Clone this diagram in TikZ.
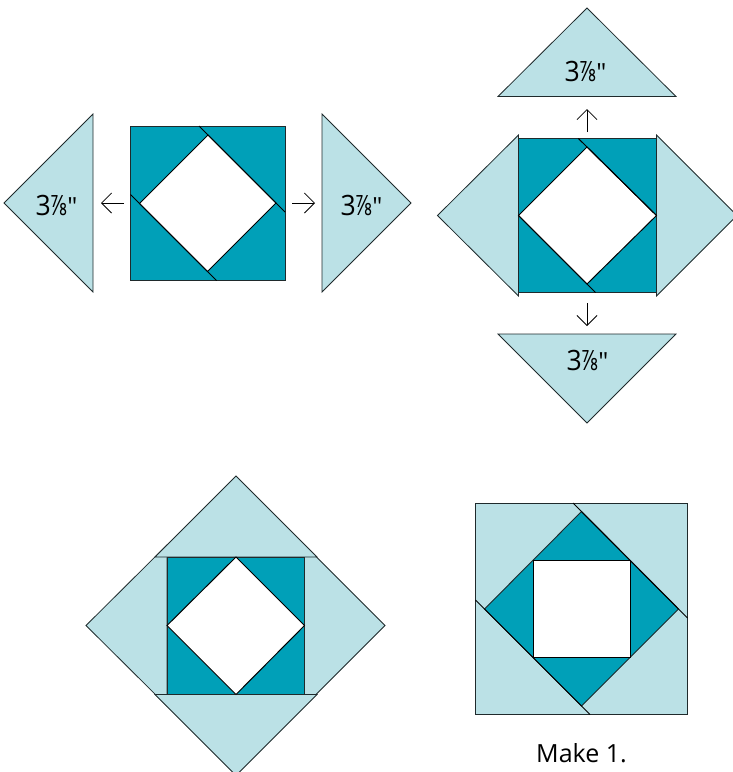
\documentclass[tikz,border=0pt]{standalone}
\usepackage{fontspec}
\newfontfamily\labfont{Open Sans}
\usetikzlibrary{arrows.meta}
\definecolor{teal1}{HTML}{00A0B8}
\definecolor{pale1}{HTML}{BBE1E6}
\definecolor{edge1}{HTML}{1F2A2C}
\tikzset{
  pale/.style={fill=pale1,draw=edge1,line width=0.8pt,line join=miter},
  darkp/.style={fill=teal1,draw=edge1,line width=0.9pt},
  hole/.style={fill=white,draw=black,line width=1pt},
  seam/.style={draw=black,line width=1pt},
  arr/.style={draw=black,line width=0.8pt,-{Straight Barb[length=10pt,width=20pt,line width=0.8pt]}},
  lab/.style={inner sep=0pt,text=black},
  mk/.style={font=\labfont\fontsize{25}{28}\selectfont,inner sep=0pt,text=black}
}
\newcommand{\threeeighths}{\labfont\fontsize{28}{29}\selectfont \scalebox{0.95}[1]{3}\kern-0.02em\scalebox{0.76}[1]{⅞}\kern0.01em{\fontsize{25}{25}\selectfont "}}
\begin{document}
\begin{tikzpicture}[x=1pt,y=-1pt]
\useasboundingbox (0,0) rectangle (733,772);
% block 1
\path[pale] (93,114) -- (93,292) -- (4,203) -- cycle;
\path[pale] (322,114) -- (322,292) -- (411,203) -- cycle;
\path[darkp] (130.5,126) rectangle (285,280.5);
\path[hole] (208,135) -- (276,203) -- (207.5,271.5) -- (139.5,203.5) -- cycle;
\draw[seam] (199,126) -- (285,212);
\draw[seam] (130.5,194.5) -- (216.5,280.5);
\node[lab] (a1) at (56.5,205) {\threeeighths};
\node[lab] (a2) at (361.5,205) {\threeeighths};
\coordinate (s1) at (124,203); \coordinate (e1) at (101,203);
\coordinate (s2) at (292,203); \coordinate (e2) at (315,203);
\draw[arr] (s1) -- (e1);
\draw[arr] (s2) -- (e2);
% block 2
\path[pale] (518.5,135) -- (518.5,296) -- (437.5,215.5) -- cycle;
\path[pale] (656.5,135) -- (656.5,296) -- (737,215.5) -- cycle;
\path[pale] (587,8) -- (676,96.5) -- (498,96.5) -- cycle;
\path[pale] (498,334) -- (676,334) -- (587,423) -- cycle;
\path[darkp] (518.5,138.5) rectangle (656.5,292.5);
\path[hole] (587,147) -- (656.5,215.5) -- (587,284) -- (518.5,215.5) -- cycle;
\draw[seam] (578.4,138.5) -- (656.5,215.5);
\draw[seam] (518.5,215.5) -- (595.5,292.5);
\node[lab] (a3) at (585.5,71) {\threeeighths};
\node[lab] (a4) at (587.5,360) {\threeeighths};
\coordinate (s3) at (587,132); \coordinate (e3) at (587,109);
\coordinate (s4) at (587,303); \coordinate (e4) at (587,326);
\draw[arr] (s3) -- (e3);
\draw[arr] (s4) -- (e4);
% block 3
\path[pale] (167,545) -- (167,706) -- (86,625.5) -- cycle;
\path[pale] (304.5,545) -- (304.5,706) -- (385,625.5) -- cycle;
\path[pale] (236,476) -- (317,557) -- (155,557) -- cycle;
\path[pale] (155,694.5) -- (317,694.5) -- (236,775.5) -- cycle;
\path[darkp] (167,557) rectangle (304.5,694.5);
\path[hole] (236,557) -- (304.5,625.5) -- (236,694.5) -- (167,625.5) -- cycle;
% block 4
\path[pale] (475.5,503) rectangle (687.5,714.5);
\path[darkp] (581.5,511.5) -- (678.5,609) -- (581.5,706) -- (484.5,609) -- cycle;
\path[hole] (533,560.5) rectangle (630,657.5);
\draw[seam] (573,503) -- (687.5,618);
\draw[seam] (475.5,600) -- (590,714.5);
\node[mk] (m1) at (581.5,753) {Make 1.};
\end{tikzpicture}
\end{document}
